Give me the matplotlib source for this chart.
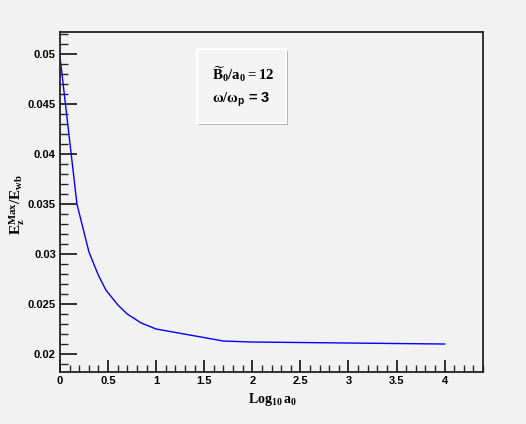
import numpy as np
import matplotlib
matplotlib.use("Agg")
import matplotlib.pyplot as plt
from matplotlib.ticker import MultipleLocator
from matplotlib.patches import Rectangle

# Data
a0 = [1, 1.5, 2, 2.5, 3, 4, 5, 7, 10, 50, 100, 1000, 10000]
ez_max = [0.0497, 0.0350, 0.0302, 0.0279, 0.0264, 0.0249, 0.0240, 0.0231,
          0.0225, 0.0213, 0.0212, 0.0211, 0.0210]

plt.rcParams['font.family'] = ['Liberation Sans', 'DejaVu Sans']
plt.rcParams['font.weight'] = 'bold'
plt.rcParams['mathtext.fontset'] = 'custom'
plt.rcParams['mathtext.rm'] = 'Liberation Serif:bold'
plt.rcParams['mathtext.it'] = 'Liberation Serif:bold'
plt.rcParams['mathtext.bf'] = 'Liberation Serif:bold'
plt.rcParams['mathtext.sf'] = 'Liberation Sans:bold'

bg = '#f2f2f2'
fig = plt.figure(figsize=(5.26, 4.24), dpi=100, facecolor=bg)
ax = fig.add_axes([0.1141, 0.1233, 0.8042, 0.8012], facecolor=bg)

ax.plot(np.log10(a0), ez_max, color='#0000ff', lw=1.0)

ax.set_xlim(0, 4.4)
ax.set_ylim(0.01823, 0.0522)

ax.xaxis.set_minor_locator(MultipleLocator(0.1))
ax.yaxis.set_minor_locator(MultipleLocator(0.001))
ax.set_xticks([0, 0.5, 1, 1.5, 2, 2.5, 3, 3.5, 4])
ax.set_xticklabels(['0', '0.5', '1', '1.5', '2', '2.5', '3', '3.5', '4'])
ax.set_yticks([0.02, 0.025, 0.03, 0.035, 0.04, 0.045, 0.05])
ax.set_yticklabels(['0.02', '0.025', '0.03', '0.035', '0.04', '0.045', '0.05'])

ax.tick_params(axis='both', which='both', direction='in', top=False, right=False,
               labelsize=8, color='#222222')
ax.tick_params(axis='y', which='major', length=12, width=1.3, pad=3)
ax.tick_params(axis='y', which='minor', length=6, width=1.0)
ax.tick_params(axis='x', which='major', length=9, width=1.3, pad=3)
ax.tick_params(axis='x', which='minor', length=5, width=1.0)
for lab in ax.get_xticklabels() + ax.get_yticklabels():
    lab.set_fontweight('bold')
for s in ax.spines.values():
    s.set_linewidth(1.3)
    s.set_color('#222222')

fig.text(0.033, 1 - 204 / 424, r'$\mathrm{E_z^{Max}/E_{wb}}$', rotation=90,
         ha='center', va='center', fontsize=11)
fig.text(0.517, 0.057, r'$\mathrm{Log_{10}\,a_0}$', ha='center', va='center',
         fontsize=10)

# label box with bevel/shadow
bx, by, bw, bh = 197 / 526, 1 - 123 / 424, 89 / 526, 74 / 424
fig.patches.append(Rectangle((bx + 0.004, by - 0.005), bw, bh, transform=fig.transFigure,
                             facecolor='#b4b4b4', edgecolor='none', zorder=3))
fig.patches.append(Rectangle((bx, by), bw, bh, transform=fig.transFigure,
                             facecolor='#f4f4f4', edgecolor='white', lw=1.5, zorder=4))
fig.text(212 / 526, 1 - 80 / 424, r'$\widetilde{\mathrm{B}}_0/\mathrm{a}_0 = 12$',
         ha='left', va='baseline', fontsize=10.7, zorder=5)
fig.text(212 / 526, 1 - 103 / 424, r'$\omega/\omega_\mathsf{p}$ = 3',
         ha='left', va='baseline', fontsize=10.5, fontweight='bold', zorder=5)

fig.savefig('out.png', dpi=100, facecolor=bg)
